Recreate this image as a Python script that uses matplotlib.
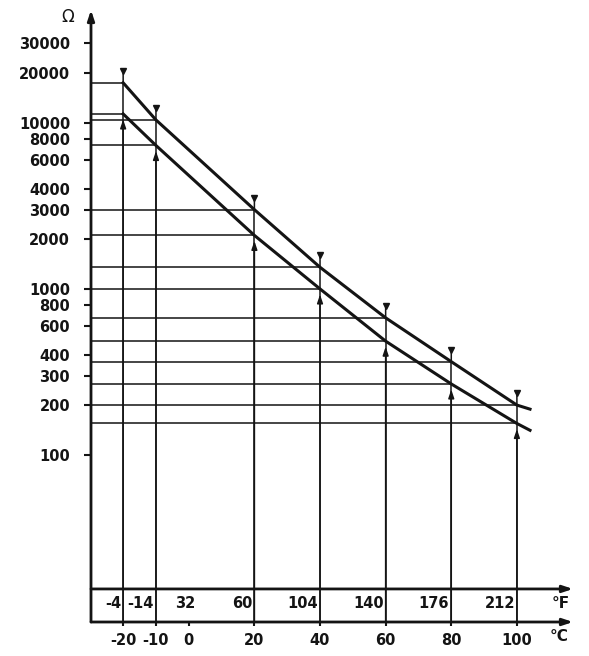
import matplotlib.pyplot as plt
from matplotlib.ticker import NullLocator
from matplotlib.transforms import offset_copy

# values (ohms at each °C)
temps_c = [-20, -10, 20, 40, 60, 80, 100]
r_upper = [17400, 10400, 3000, 1350, 670, 365, 200]
r_lower = [11300, 7300, 2100, 1000, 485, 268, 155]
# the curves run a little past 100 °C
end_c = 104
end_upper = 189
end_lower = 141

c_ticks = [-20, -10, 0, 20, 40, 60, 80, 100]
f_labels = ["-4", "-14", "32", "60", "104", "140", "176", "212"]
r_ticks = [100, 200, 300, 400, 600, 800, 1000, 2000, 3000, 4000, 6000,
           8000, 10000, 20000, 30000]

ink = "#141414"
x_lo, x_hi = -29.8, 117.1
y_lo, y_hi = 9.9, 47700
fs = 10.5

fig = plt.figure(figsize=(5.89, 6.56), dpi=100)
ax = fig.add_axes([91 / 589, 34 / 656, 482 / 589, 612 / 656])
ax.set_yscale("log")
ax.set_xlim(x_lo, x_hi)
ax.set_ylim(y_lo, y_hi)

for s in ax.spines.values():
    s.set_visible(False)

ax.set_yticks(r_ticks, labels=[str(v) for v in r_ticks])
ax.yaxis.set_minor_locator(NullLocator())
ax.set_xticks(c_ticks, labels=[str(v) for v in c_ticks])
ax.tick_params(axis="y", direction="out", length=5, width=1.5, pad=10,
               labelsize=fs, colors=ink)
ax.tick_params(axis="x", direction="out", length=3, width=1.5, pad=5,
               labelsize=fs, colors=ink)
for lab in ax.get_xticklabels() + ax.get_yticklabels():
    lab.set_fontweight("bold")

# axes drawn as arrows
arrow = dict(arrowstyle="-|>,head_length=0.6,head_width=0.2", lw=2,
             color=ink, shrinkA=0, shrinkB=0)
ax.annotate("", xy=(0, 1), xytext=(0, 0), xycoords="axes fraction",
            arrowprops=arrow)
ax.annotate("", xy=(1, 0), xytext=(0, 0), xycoords="axes fraction",
            arrowprops=arrow)
ax.annotate("", xy=(1, 0.054), xytext=(0, 0.054), xycoords="axes fraction",
            arrowprops=arrow)

# reading lines: horizontals to the axis, verticals from the °C scale
for t, u, l in zip(temps_c, r_upper, r_lower):
    ax.hlines([u, l], x_lo, t, color=ink, lw=1.1)
    ax.vlines(t, y_lo, u, color=ink, lw=1.1)
    ax.annotate("", xy=(t, l), xytext=(t, y_lo),
                arrowprops=dict(arrowstyle="-|>,head_length=0.5,head_width=0.17",
                                lw=1.1, color=ink, shrinkA=0, shrinkB=4))
    ax.annotate("", xy=(t, u), xytext=(0, 8), textcoords="offset points",
                arrowprops=dict(arrowstyle="-", lw=1.1, color=ink,
                                shrinkA=0, shrinkB=0))

above = offset_copy(ax.transData, fig=fig, x=0, y=12, units="dots")
ax.plot(temps_c, r_upper, "v", ms=4, color=ink, ls="none", transform=above)

ax.plot(temps_c + [end_c], r_upper + [end_upper], color=ink, lw=2.2)
ax.plot(temps_c + [end_c], r_lower + [end_lower], color=ink, lw=2.2)

# Fahrenheit labels between the two scales
for t, lab in zip(c_ticks, f_labels):
    dx = 2.0 if lab == "32" else -0.6
    ax.text(t + dx, 0.031, lab, transform=ax.get_xaxis_transform(),
            ha="right", va="center", fontsize=fs, fontweight="bold", color=ink)

ax.text(-0.048, 0.988, "Ω", transform=ax.transAxes, ha="center",
        va="center", fontsize=12, color=ink)
ax.text(0.975, 0.031, "°F", transform=ax.transAxes, ha="center",
        va="center", fontsize=11, fontweight="bold", color=ink)
ax.text(0.972, -0.024, "°C", transform=ax.transAxes, ha="center",
        va="center", fontsize=11, fontweight="bold", color=ink)

fig.savefig("out.png", dpi=100)
